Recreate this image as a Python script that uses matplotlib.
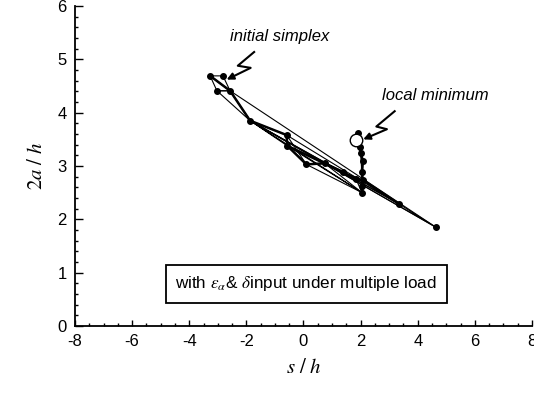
import matplotlib
matplotlib.use("Agg")
import matplotlib.pyplot as plt

plt.rcParams['font.family'] = ['Liberation Sans', 'DejaVu Sans']
plt.rcParams['mathtext.fontset'] = 'stix'
plt.rcParams['axes.unicode_minus'] = False

# simplex vertices (s/h, 2a/h)
vx = [-3.27, -2.82, -3.03, -2.57, -1.87, 4.64, -0.59, 3.34, -0.57, 0.10,
      0.74, 1.40, 2.05, 1.84, 2.07, 2.04, 2.04, 2.08, 1.98, 2.00, 1.91]
vy = [4.69, 4.69, 4.41, 4.41, 3.85, 1.85, 3.58, 2.29, 3.38, 3.03,
      3.05, 2.88, 2.50, 2.75, 2.74, 2.89, 2.62, 3.10, 3.36, 3.24, 3.62]

# simplexes (thin triangles) as vertex indices
triangles = [(0, 1, 3), (0, 2, 3), (2, 3, 4), (3, 4, 5), (4, 5, 7),
             (4, 6, 7), (6, 8, 9), (4, 8, 12), (8, 9, 10), (9, 10, 12),
             (10, 11, 13), (11, 13, 14), (13, 14, 12), (12, 14, 16),
             (14, 15, 17), (15, 17, 19), (17, 19, 18), (19, 18, 20)]

# path of best points (bold)
best_path = [0, 3, 4, 6, 8, 9, 10, 11, 13, 14, 12, 16, 14, 15, 17, 19, 18, 20]
bold_extra = [(14, 7), (8, 11)]

local_min = (1.84, 3.49)

# zigzag arrows for the labels
arrow1_x = [-1.70, -2.30, -1.85, -2.69]
arrow1_y = [5.15, 4.88, 4.84, 4.62]
arrow2_x = [3.22, 2.55, 2.92, 2.09]
arrow2_y = [4.04, 3.74, 3.69, 3.50]

fig = plt.figure(figsize=(5.34, 3.95), dpi=100)
ax = fig.add_axes([0.1404, 0.1747, 0.8559, 0.8101])

for t in triangles:
    xs = [vx[i] for i in t] + [vx[t[0]]]
    ys = [vy[i] for i in t] + [vy[t[0]]]
    ax.plot(xs, ys, color='black', lw=0.8)

ax.plot([vx[i] for i in best_path], [vy[i] for i in best_path], color='black', lw=1.8)
for a, b in bold_extra:
    ax.plot([vx[a], vx[b]], [vy[a], vy[b]], color='black', lw=1.8)

ax.plot(vx, vy, 'o', color='black', ms=4, ls='none')
ax.plot([local_min[0]], [local_min[1]], 'o', mfc='white', mec='black', ms=9, mew=1.0)

for zx, zy in [(arrow1_x, arrow1_y), (arrow2_x, arrow2_y)]:
    ax.plot(zx[:-1], zy[:-1], color='black', lw=1.5, solid_capstyle='butt')
    ax.annotate('', xy=(zx[-1], zy[-1]), xytext=(zx[-2], zy[-2]),
                arrowprops=dict(arrowstyle='-|>', color='black', lw=1.5,
                                mutation_scale=10, shrinkA=0, shrinkB=0))

ax.text(-0.82, 5.42, 'initial simplex', style='italic', fontsize=12,
        ha='center', va='center')
ax.text(4.6, 4.33, 'local minimum', style='italic', fontsize=12,
        ha='center', va='center')

ax.text(0.1, 0.79, r'with $\varepsilon_\alpha$& $\delta$input under multiple load',
        fontsize=12.3, ha='center', va='center',
        bbox=dict(boxstyle='square,pad=0.55', fc='white', ec='black', lw=1.3))

ax.set_xlim(-8, 8)
ax.set_ylim(0, 6)
ax.set_xticks(range(-8, 9, 2))
ax.set_yticks(range(0, 7))
ax.set_xticks([x * 0.5 for x in range(-16, 17)], minor=True)
ax.set_yticks([y * 0.2 for y in range(0, 31)], minor=True)
ax.spines['top'].set_visible(False)
ax.spines['right'].set_visible(False)
ax.spines['left'].set_linewidth(1.3)
ax.spines['bottom'].set_linewidth(1.3)
ax.tick_params(axis='both', which='both', direction='in', labelsize=12, width=1.0)
ax.tick_params(axis='x', which='major', length=4, pad=6)
ax.tick_params(axis='y', which='major', length=6, pad=6)
ax.tick_params(axis='both', which='minor', length=2.5)

ax.set_xlabel(r'$s\ /\ h$', fontsize=15, labelpad=6)
ax.set_ylabel(r'$2a\ /\ h$', fontsize=15, labelpad=8)

fig.savefig('out.png', dpi=100)
